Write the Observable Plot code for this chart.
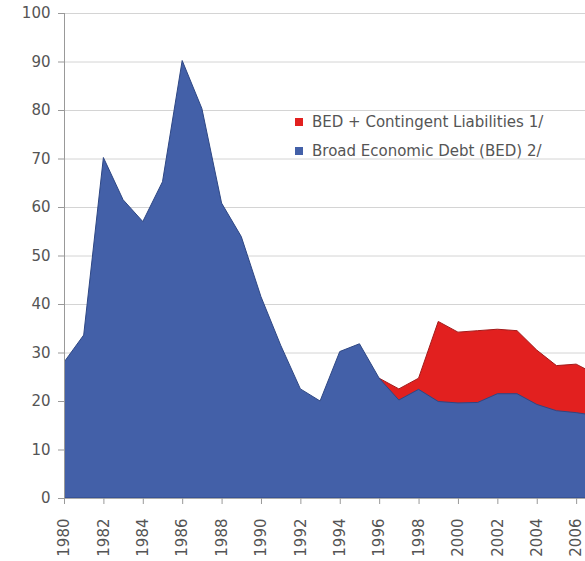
<!DOCTYPE html>
<html>
<head>
<meta charset="utf-8">
<script src="https://cdn.jsdelivr.net/npm/d3@7"></script>
<script src="https://cdn.jsdelivr.net/npm/@observablehq/plot@0.6"></script>
<style>
  html, body { margin: 0; padding: 0; background: #fff; }
  #wrap { position: relative; width: 585px; height: 561px; overflow: hidden; font-family: "DejaVu Sans", "Liberation Sans", Arial, sans-serif; }
  #legend { position: absolute; left: 295px; top: 108px; font-size: 15px; color: #555; line-height: 29px; white-space: nowrap; }
  #legend .sw { display: inline-block; width: 8px; height: 8px; margin-right: 9px; vertical-align: 1px; }
</style>
</head>
<body>
<div id="wrap"><div id="legend"></div></div>
<script>
const years = [1980,1981,1982,1983,1984,1985,1986,1987,1988,1989,1990,1991,1992,1993,1994,1995,1996,1997,1998,1999,2000,2001,2002,2003,2004,2005,2006,2007];
const bed = [28,33.6,70.2,61.5,57,65.2,90.2,80.3,60.8,53.9,41.5,31.5,22.5,20,30.2,31.8,24.7,20.2,22.4,19.9,19.6,19.7,21.5,21.5,19.3,18,17.6,17];
const contYears = [1996,1997,1998,1999,2000,2001,2002,2003,2004,2005,2006,2007];
const bedPlusContingent = [24.7,22.5,24.7,36.4,34.2,34.5,34.8,34.5,30.5,27.3,27.6,25.5];
const xTicks = [1980,1982,1984,1986,1988,1990,1992,1994,1996,1998,2000,2002,2004,2006];
const yTicks = [0,10,20,30,40,50,60,70,80,90,100];
const seriesNames = ["BED + Contingent Liabilities 1/", "Broad Economic Debt (BED) 2/"];
const seriesColors = ["#E2201F", "#4360A8"];
const seriesStrokes = ["#A31A1A", "#2E4784"];

const bedData = years.map((y, i) => ({year: y, value: bed[i]}));
const totalData = contYears.map((y, i) => ({year: y, value: bedPlusContingent[i]}));

const chart = Plot.plot({
  width: 585,
  height: 561,
  marginLeft: 64,
  marginRight: 0,
  marginTop: 13,
  marginBottom: 63,
  style: {fontFamily: "'DejaVu Sans', 'Liberation Sans', Arial, sans-serif", fontSize: "15px", background: "#fff", overflow: "hidden"},
  x: {domain: [1980, 2006.45], label: null},
  y: {domain: [0, 100], label: null},
  marks: [
    Plot.gridY(yTicks, {stroke: "#d4d4d4", strokeOpacity: 1}),
    Plot.areaY(totalData, {x: "year", y: "value", fill: seriesColors[0], stroke: seriesStrokes[0], strokeWidth: 1, clip: true}),
    Plot.areaY(bedData, {x: "year", y: "value", fill: seriesColors[1], stroke: seriesStrokes[1], strokeWidth: 1, clip: true}),
    Plot.ruleX([1980], {stroke: "#999"}),
    Plot.ruleY([0], {stroke: "#aaa"}),
    Plot.axisY(yTicks, {tickSize: 6, tickPadding: 8, stroke: "#999", fill: "#555", label: null}),
    Plot.axisX(xTicks, {tickSize: 6, tickPadding: 14, tickRotate: -90, tickFormat: d => String(d), stroke: "#999", fill: "#555", label: null})
  ]
});
document.getElementById("wrap").insertBefore(chart, document.getElementById("legend"));

const legend = document.getElementById("legend");
seriesNames.forEach((n, i) => {
  const row = document.createElement("div");
  row.innerHTML = `<span class="sw" style="background:${seriesColors[i]}"></span>${n}`;
  legend.appendChild(row);
});
</script>
</body>
</html>
